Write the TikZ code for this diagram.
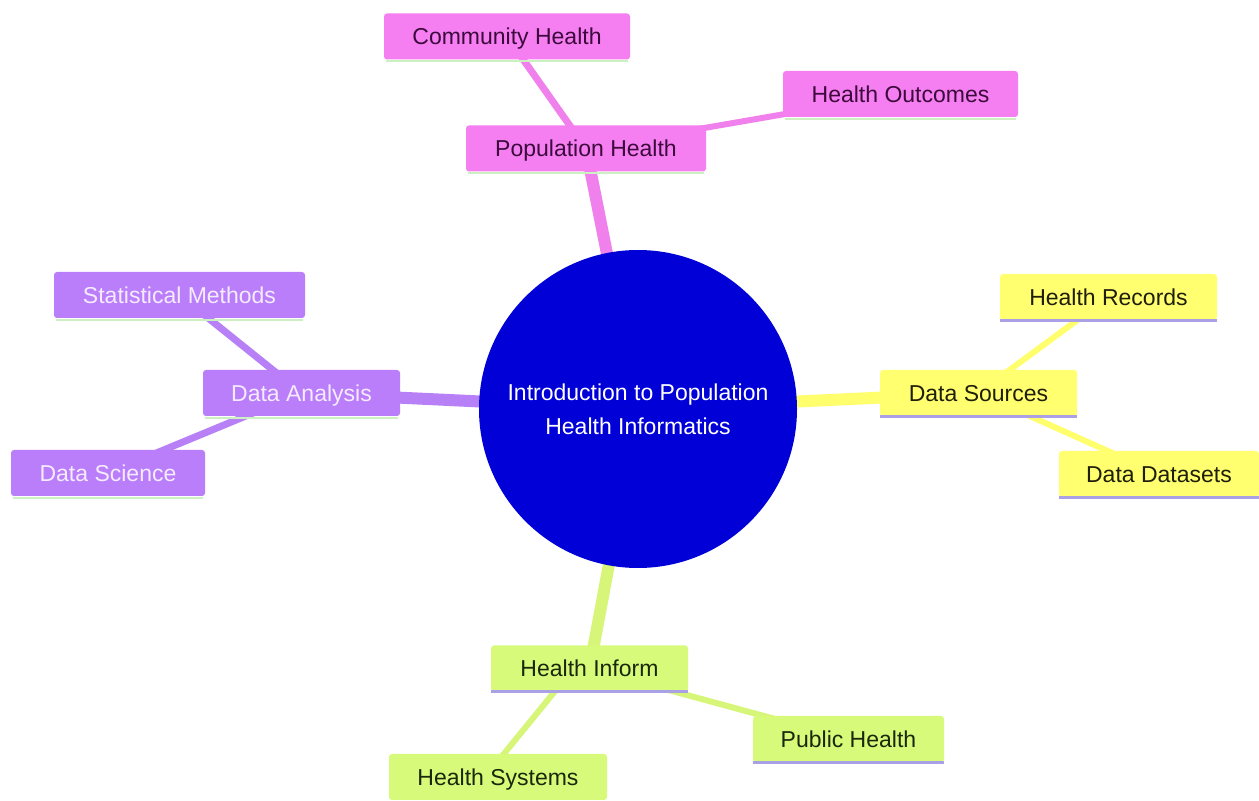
\documentclass[tikz,border=0pt]{standalone}
\usepackage{fontspec}
\setmainfont{Liberation Sans}
\usetikzlibrary{backgrounds,calc}
\definecolor{pinkF}{RGB}{245,126,240}
\definecolor{pinkT}{RGB}{60,10,60}
\definecolor{pinkL}{RGB}{240,128,235}
\definecolor{purpF}{RGB}{186,126,250}
\definecolor{purpT}{RGB}{245,235,255}
\definecolor{purpL}{RGB}{184,128,246}
\definecolor{yelF}{RGB}{255,255,112}
\definecolor{yelT}{RGB}{30,30,10}
\definecolor{yelL}{RGB}{255,255,110}
\definecolor{grnF}{RGB}{215,250,122}
\definecolor{grnT}{RGB}{25,40,10}
\definecolor{grnL}{RGB}{215,245,120}
\definecolor{hubB}{RGB}{0,0,215}
\definecolor{lavU}{RGB}{170,160,230}
\definecolor{shdG}{RGB}{205,240,195}
\tikzset{
  box/.style={rectangle, rounded corners=1.5pt, inner sep=0pt, minimum height=23pt,
    text height=8.3pt, text depth=0pt,
    font=\fontsize{11.5}{14}\selectfont},
  pinkbox/.style={box, fill=pinkF, text=pinkT},
  purpbox/.style={box, fill=purpF, text=purpT},
  yelbox/.style={box, fill=yelF, text=yelT},
  grnbox/.style={box, fill=grnF, text=grnT},
  mainedge/.style={line width=6pt},
  subedge/.style={line width=3.5pt},
  under/.style={line width=1.5pt, draw=lavU},
  shadow/.style={line width=1pt, draw=shdG},
}
\begin{document}
\begin{tikzpicture}[x=0.5pt,y=-0.5pt]
\useasboundingbox (0,0) rectangle (1259,801);

\node[circle, fill=hubB, minimum size=159pt, inner sep=0pt, text=white, align=center,
  font=\fontsize{11.5}{17}\selectfont] (hub) at (638,409)
  {Introduction to Population\\Health Informatics};

\node[pinkbox, minimum width=123pt] (comm) at (507,36.5) {Community Health};
\node[pinkbox, minimum width=120pt] (pop) at (586,148.5) {Population Health};
\node[pinkbox, minimum width=117.5pt] (outc) at (900.5,94) {Health Outcomes};

\node[purpbox, minimum width=125.5pt] (stat) at (179.5,295) {Statistical Methods};
\node[purpbox, minimum width=98.5pt] (anal) at (301.5,393) {Data Analysis};
\node[purpbox, minimum width=97pt] (sci) at (108,473) {Data Science};

\node[yelbox, minimum width=98.5pt] (src) at (978.5,393) {Data Sources};
\node[yelbox, minimum width=108.5pt] (rec) at (1108.5,297) {Health Records};
\node[yelbox, minimum width=100pt] (dat) at (1159,474) {Data Datasets};

\node[grnbox, minimum width=98.5pt] (inf) at (589.5,668.5) {Health Inform};
\node[grnbox, minimum width=95.5pt] (pub) at (848.5,739) {Public Health};
\node[grnbox, minimum width=109pt] (sys) at (498,777) {Health Systems};

\begin{scope}[on background layer]
\fill[white] (0,0) rectangle (1259,801);
\draw[mainedge, pinkL] (hub.center) -- (pop.center);
\draw[subedge, pinkL] (pop.center) -- (comm.center);
\draw[line width=3pt, pinkL] (pop.center) -- (outc.center);

\draw[mainedge, purpL] (hub.center) -- (anal.center);
\draw[subedge, purpL] (anal.center) -- (stat.center);
\draw[subedge, purpL] (anal.center) -- (sci.center);

\draw[mainedge, yelL] (hub.center) -- (src.center);
\draw[line width=3pt, yelL] (src.center) -- (rec.center);
\draw[line width=3pt, yelL] (src.center) -- (dat.center);

\draw[mainedge, grnL] (hub.center) -- (inf.center);
\draw[line width=3pt, grnL] ($(inf.center)+(-16,0)$) -- ($(sys.center)+(-13,0)$);
\draw[line width=3pt, grnL] (inf.center) -- (pub.center);
\end{scope}

% bottom shadows / underlines
\foreach \n in {comm,pop,outc,stat,anal,sci}{
  \draw[shadow] ($(\n.south west)+(2,1.5)$) -- ($(\n.south east)+(-2,1.5)$);
}
\foreach \n in {src,rec,dat,inf,pub}{
  \draw[under] ($(\n.south west)+(0,0)$) -- ($(\n.south east)+(0,0)$);
}
\end{tikzpicture}
\end{document}
